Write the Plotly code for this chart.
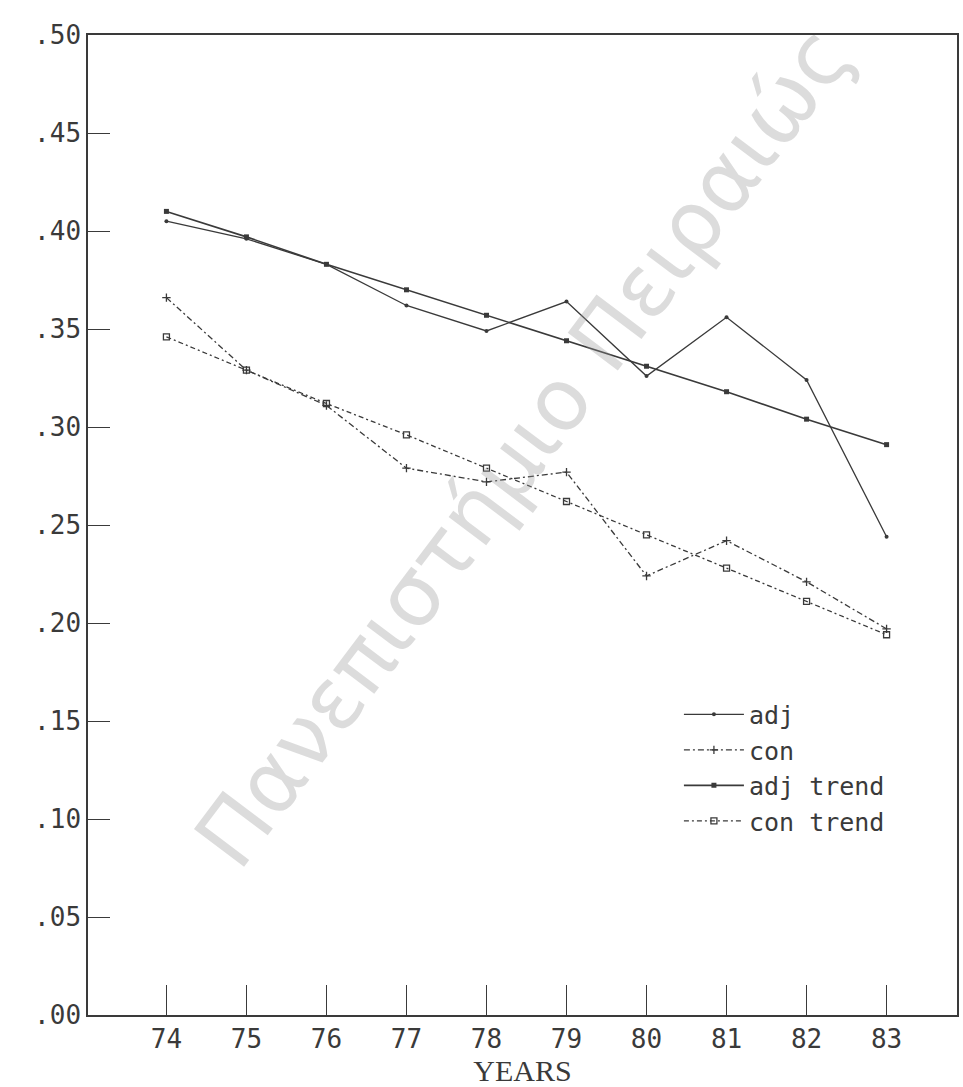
import plotly.graph_objects as go

years = [74, 75, 76, 77, 78, 79, 80, 81, 82, 83]
adj = [0.405, 0.396, 0.383, 0.362, 0.349, 0.364, 0.326, 0.356, 0.324, 0.244]
con = [0.366, 0.329, 0.311, 0.279, 0.272, 0.277, 0.224, 0.242, 0.221, 0.197]
adj_trend = [0.410, 0.397, 0.383, 0.370, 0.357, 0.344, 0.331, 0.318, 0.304, 0.291]
con_trend = [0.346, 0.329, 0.312, 0.296, 0.279, 0.262, 0.245, 0.228, 0.211, 0.194]

y_ticks = [0.00, 0.05, 0.10, 0.15, 0.20, 0.25, 0.30, 0.35, 0.40, 0.45, 0.50]
y_tick_text = [".00", ".05", ".10", ".15", ".20", ".25", ".30", ".35", ".40", ".45", ".50"]
x_tick_text = ["74", "75", "76", "77", "78", "79", "80", "81", "82", "83"]
watermark = "Πανεπιστήμιο Πειραιώς"

ink = "#3a3a3a"
mono = "DejaVu Sans Mono"

fig = go.Figure()
fig.add_trace(go.Scatter(x=years, y=adj, name="adj", mode="lines+markers",
                         line=dict(color=ink, width=1.3, dash="solid"),
                         marker=dict(symbol="circle", size=4, color=ink)))
fig.add_trace(go.Scatter(x=years, y=con, name="con", mode="lines+markers",
                         line=dict(color=ink, width=1.3, dash="6px,3px,2px,3px"),
                         marker=dict(symbol="cross-thin", size=6, line=dict(color=ink, width=1.3))))
fig.add_trace(go.Scatter(x=years, y=adj_trend, name="adj trend", mode="lines+markers",
                         line=dict(color=ink, width=1.6, dash="solid"),
                         marker=dict(symbol="square", size=5, color=ink)))
fig.add_trace(go.Scatter(x=years, y=con_trend, name="con trend", mode="lines+markers",
                         line=dict(color=ink, width=1.3, dash="5px,3px,2px,3px"),
                         marker=dict(symbol="square-open", size=6, color=ink, line=dict(width=1.3))))

fig.add_annotation(text=watermark, x=0.5, y=0.58, xref="paper", yref="paper",
                   showarrow=False, textangle=-53,
                   font=dict(family="DejaVu Sans", size=86, color="rgba(150,150,150,0.33)"))

fig.update_layout(
    width=963, height=1087,
    margin=dict(l=88, r=4, t=35, b=72),
    paper_bgcolor="white", plot_bgcolor="white",
    font=dict(family=mono, size=26, color=ink),
    showlegend=True,
    legend=dict(x=0.68, y=0.33, xanchor="left", yanchor="top",
                bgcolor="rgba(0,0,0,0)", font=dict(family=mono, size=25, color=ink),
                tracegroupgap=0, itemwidth=60),
    xaxis=dict(range=[73.02, 83.88], tickvals=years, ticktext=x_tick_text,
               ticks="inside", ticklen=30, tickwidth=1.3, tickcolor=ink,
               showline=True, linecolor=ink, linewidth=1.5, mirror=True,
               showgrid=False, zeroline=False,
               tickfont=dict(family=mono, size=26, color=ink),
               title=dict(text="YEARS", font=dict(family="Liberation Serif", size=30, color=ink), standoff=0)),
    yaxis=dict(range=[0, 0.5], tickvals=y_ticks, ticktext=y_tick_text,
               ticks="inside", ticklen=22, tickwidth=1.3, tickcolor=ink,
               showline=True, linecolor=ink, linewidth=1.5, mirror=True,
               showgrid=False, zeroline=False,
               tickfont=dict(family=mono, size=26, color=ink)),
)

fig.write_html("out.html")
